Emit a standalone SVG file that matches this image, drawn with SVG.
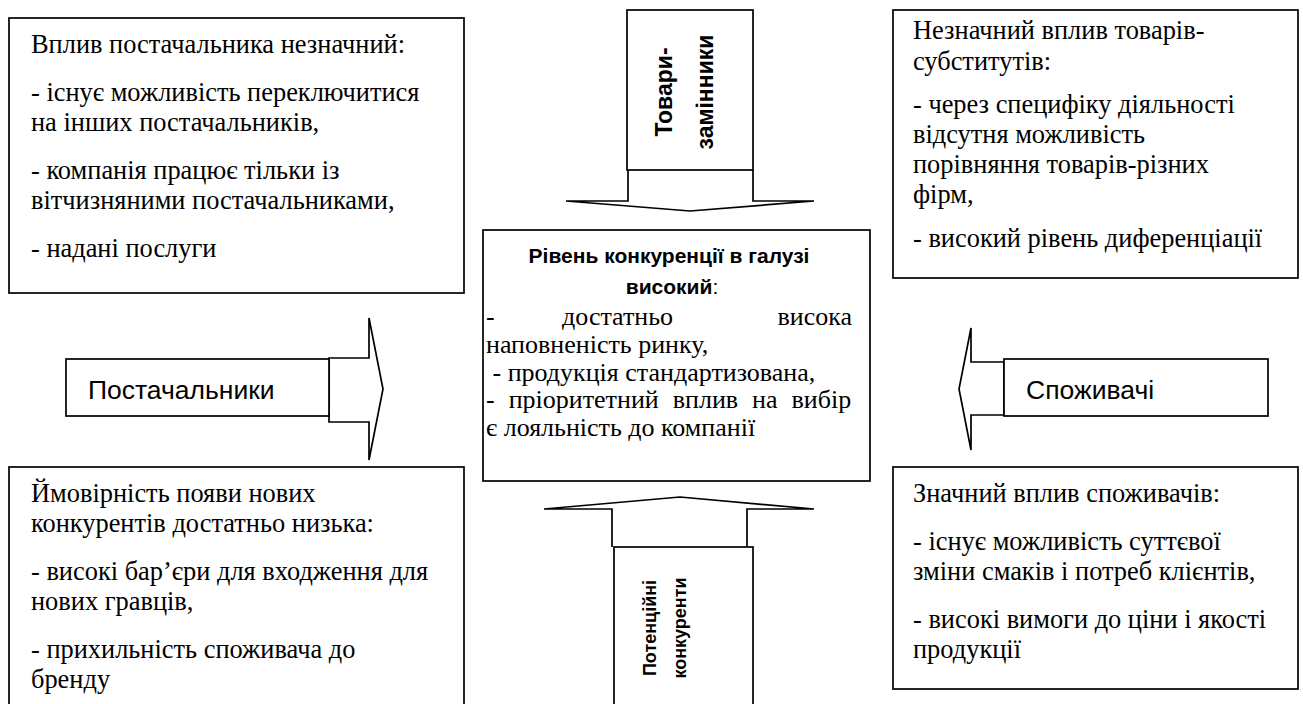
<svg xmlns="http://www.w3.org/2000/svg" width="1303" height="704" viewBox="0 0 1303 704">
<style>
.box{fill:#fff;stroke:#000;stroke-width:1.7}
.arr{fill:#fff;stroke:#000;stroke-width:1.7;stroke-linejoin:miter}
.h{font-family:'Liberation Sans',Arial,sans-serif;font-size:21px;font-weight:bold;fill:#000}
.lab{font-family:'Liberation Sans',Arial,sans-serif;font-size:26.5px;fill:#000}
.vt{font-family:'Liberation Sans',Arial,sans-serif;font-weight:bold;fill:#000}
</style>
<rect width="1303" height="704" fill="#fff"/>
<g id="connectors">
  <g id="arrow-top">
    <path class="arr" d="M628,170 V201 H566 L690,211 L814,201 H753 V170"/>
    <rect class="box" x="627" y="10" width="126" height="160"/>
    <text class="vt" font-size="23" text-anchor="middle" transform="translate(672,92) rotate(-90)">Товари-</text>
    <text class="vt" font-size="23" text-anchor="middle" transform="translate(713,92) rotate(-90)">замінники</text>
  </g>
  <g id="arrow-bottom">
    <path class="arr" d="M612,547 V509 H544 L680,497 L814,509 H747 V547"/>
    <rect class="box" x="614" y="547" width="139" height="170"/>
    <text class="vt" font-size="18" text-anchor="middle" transform="translate(656,628) rotate(-90)">Потенційні</text>
    <text class="vt" font-size="18" text-anchor="middle" transform="translate(686,628) rotate(-90)">конкуренти</text>
  </g>
  <g id="arrow-left">
    <path class="arr" d="M329,358 H369 V318 L383,389 L369,460 V422 H329 Z"/>
    <rect class="box" x="66" y="359" width="263" height="57"/>
    <text class="lab" x="88" y="399">Постачальники</text>
  </g>
  <g id="arrow-right">
    <path class="arr" d="M1004,362 H971 V328 L959,389 L971,450 V415 H1004 Z"/>
    <rect class="box" x="1004" y="359" width="264" height="57"/>
    <text class="lab" x="1026" y="399">Споживачі</text>
  </g>
</g>
<g font-family="'Liberation Serif', 'DejaVu Serif', 'Times New Roman', serif" font-size="26.4" fill="#000">
<g id="node-suppliers">
  <rect class="box" x="9" y="18" width="455" height="275"/>
  <text x="31" y="53">Вплив постачальника незначний:</text>
  <text x="31" y="101">- існує можливість переключитися</text>
  <text x="31" y="131">на інших постачальників,</text>
  <text x="31" y="179">- компанія працює тільки із</text>
  <text x="31" y="209">вітчизняними постачальниками,</text>
  <text x="31" y="257">- надані послуги</text>
</g>
<g id="node-substitutes">
  <rect class="box" x="893" y="10" width="405" height="268"/>
  <text x="913" y="39">Незначний вплив товарів-</text>
  <text x="913" y="70">субститутів:</text>
  <text x="913" y="113">- через специфіку діяльності</text>
  <text x="913" y="143">відсутня можливість</text>
  <text x="913" y="173">порівняння товарів-різних</text>
  <text x="913" y="203">фірм,</text>
  <text x="913" y="247">- високий рівень диференціації</text>
</g>
<g id="node-center" font-size="26">
  <rect class="box" x="483" y="230" width="387" height="251"/>
  <text class="h" x="669" y="263" text-anchor="middle">Рівень конкуренції в галузі</text>
  <text class="h" x="672" y="294" text-anchor="middle">високий<tspan font-weight="normal">:</tspan></text>
  <text x="486" y="325">-</text>
  <text x="562" y="325">достатньо</text>
  <text x="852" y="325" text-anchor="end">висока</text>
  <text x="486" y="353">наповненість ринку,</text>
  <text x="486" y="381" xml:space="preserve"> - продукція стандартизована,</text>
  <text x="486" y="408" word-spacing="7.5">- пріоритетний вплив на вибір</text>
  <text x="486" y="436">є лояльність до компанії</text>
</g>
<g id="node-entrants">
  <rect class="box" x="9" y="467" width="455" height="250"/>
  <text x="31" y="502">Ймовірність появи нових</text>
  <text x="31" y="532">конкурентів достатньо низька:</text>
  <text x="31" y="580">- високі бар’єри для входження для</text>
  <text x="31" y="610">нових гравців,</text>
  <text x="31" y="658">- прихильність споживача до</text>
  <text x="31" y="688">бренду</text>
</g>
<g id="node-buyers">
  <rect class="box" x="893" y="467" width="405" height="222"/>
  <text x="913" y="502">Значний вплив споживачів:</text>
  <text x="913" y="550">- існує можливість суттєвої</text>
  <text x="913" y="580">зміни смаків і потреб клієнтів,</text>
  <text x="913" y="628">- високі вимоги до ціни і якості</text>
  <text x="913" y="658">продукції</text>
</g>
</g>
</svg>
